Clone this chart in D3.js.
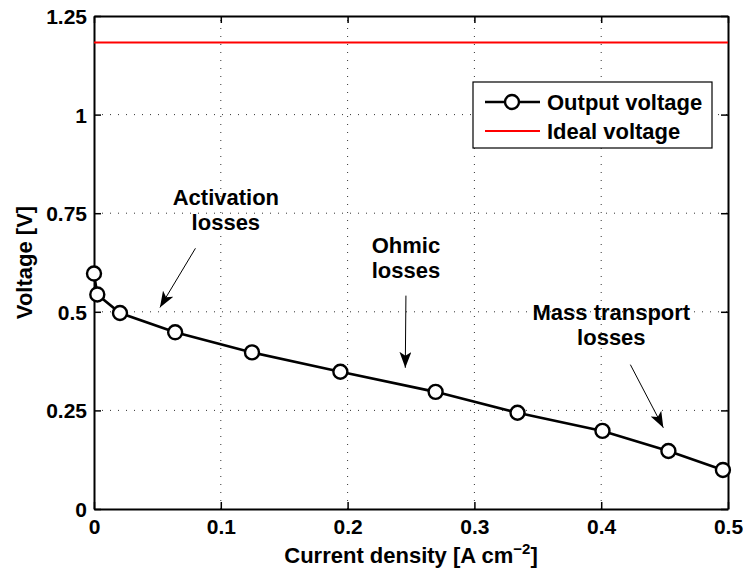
<!DOCTYPE html>
<html>
<head>
<meta charset="utf-8">
<script src="https://cdn.jsdelivr.net/npm/d3@7"></script>
<style>
  html, body { margin: 0; padding: 0; background: #fff; }
  svg { display: block; font-family: "Liberation Sans", Arial, Helvetica, sans-serif; font-weight: bold; }
</style>
</head>
<body>
<svg id="chart" width="743" height="575"></svg>
<script>
// Polarization curve of the cell
const currentDensity = [0, 0.0026, 0.0205, 0.064, 0.1246, 0.1943, 0.2694, 0.334, 0.401, 0.453, 0.496];
const outputVoltage  = [0.597, 0.544, 0.497, 0.448, 0.397, 0.348, 0.297, 0.244, 0.198, 0.147, 0.099];
const idealVoltage = 1.183;

const xTicks = [0, 0.1, 0.2, 0.3, 0.4, 0.5];
const yTicks = [0, 0.25, 0.5, 0.75, 1, 1.25];
const xTickLabels = ["0", "0.1", "0.2", "0.3", "0.4", "0.5"];
const yTickLabels = ["0", "0.25", "0.5", "0.75", "1", "1.25"];

// Loss-region annotations: label lines, text anchor and arrow (tail -> tip) in data units
const annotationLabels = [["Activation", "losses"], ["Ohmic", "losses"], ["Mass transport", "losses"]];
const annotationAnchors = [[0.104, 0.772], [0.246, 0.650], [0.408, 0.480]];
const arrowTails = [[0.080, 0.661], [0.246, 0.541], [0.423, 0.366]];
const arrowTips  = [[0.052, 0.511], [0.2455, 0.358], [0.449, 0.206]];

const legendLabels = ["Output voltage", "Ideal voltage"];

const W = 743, H = 575;
const margin = { left: 94, right: 15, top: 16, bottom: 66 };
const svg = d3.select("#chart");

const x = d3.scaleLinear().domain([0, 0.5]).range([margin.left, W - margin.right]);
const y = d3.scaleLinear().domain([0, 1.25]).range([H - margin.bottom, margin.top]);
const x0 = x.range()[0], x1 = x.range()[1], y0 = y.range()[0], y1 = y.range()[1];

const FS = 22, TICK_FS = 21;

// dotted grid
const grid = svg.append("g").attr("stroke", "#333").attr("stroke-width", 1).attr("stroke-dasharray", "1,7");
grid.selectAll(".gx").data(xTicks.slice(1, -1)).join("line")
  .attr("x1", d => x(d)).attr("x2", d => x(d)).attr("y1", y0).attr("y2", y1);
grid.selectAll(".gy").data(yTicks.slice(1, -1)).join("line")
  .attr("x1", x0).attr("x2", x1).attr("y1", d => y(d)).attr("y2", d => y(d));

// axes with inward ticks on all sides
const tickLen = 7;
const fmtX = (d, i) => xTickLabels[i];
const fmtY = (d, i) => yTickLabels[i];
const axB = svg.append("g").attr("transform", `translate(0,${y0})`)
  .call(d3.axisBottom(x).tickValues(xTicks).tickFormat(fmtX).tickSizeInner(-tickLen).tickSizeOuter(0));
const axL = svg.append("g").attr("transform", `translate(${x0},0)`)
  .call(d3.axisLeft(y).tickValues(yTicks).tickFormat(fmtY).tickSizeInner(-tickLen).tickSizeOuter(0).tickPadding(7));
const axT = svg.append("g").attr("transform", `translate(0,${y1})`)
  .call(d3.axisTop(x).tickValues(xTicks).tickFormat("").tickSizeInner(-tickLen).tickSizeOuter(0));
const axR = svg.append("g").attr("transform", `translate(${x1},0)`)
  .call(d3.axisRight(y).tickValues(yTicks).tickFormat("").tickSizeInner(-tickLen).tickSizeOuter(0));
[axB, axL, axT, axR].forEach(a => {
  a.select(".domain").attr("stroke", "#000").attr("stroke-width", 2);
  a.selectAll(".tick line").attr("stroke", "#000").attr("stroke-width", 1.5);
  a.selectAll("text").attr("fill", "#000").attr("font-size", TICK_FS).attr("font-weight", "bold")
    .attr("font-family", "'Liberation Sans', Arial, sans-serif");
});
axB.selectAll(".tick text").attr("y", 25).attr("dy", 0);
axL.selectAll(".tick text").attr("dy", "0.36em");

// ideal voltage
svg.append("line")
  .attr("x1", x0).attr("x2", x1).attr("y1", y(idealVoltage)).attr("y2", y(idealVoltage))
  .attr("stroke", "#ff0000").attr("stroke-width", 2);

// output voltage curve and markers
const pts = currentDensity.map((c, i) => [c, outputVoltage[i]]);
svg.append("path").datum(pts)
  .attr("d", d3.line().x(d => x(d[0])).y(d => y(d[1])))
  .attr("fill", "none").attr("stroke", "#000").attr("stroke-width", 2.6);
svg.selectAll(".mk").data(pts).join("circle")
  .attr("cx", d => x(d[0])).attr("cy", d => y(d[1])).attr("r", 7)
  .attr("fill", "#fff").attr("stroke", "#000").attr("stroke-width", 2.4);

// annotations
const defs = svg.append("defs");
defs.append("marker").attr("id", "head").attr("viewBox", "0 0 16 12")
  .attr("refX", 16).attr("refY", 6).attr("markerWidth", 16).attr("markerHeight", 12)
  .attr("markerUnits", "userSpaceOnUse").attr("orient", "auto")
  .append("path").attr("d", "M0,0 L16,6 L0,12 L4,6 Z").attr("fill", "#000");

annotationLabels.forEach((lines, i) => {
  const [ax, ay] = annotationAnchors[i];
  const t = svg.append("text").attr("text-anchor", "middle").attr("font-size", FS).attr("fill", "#000");
  lines.forEach((l, j) => {
    t.append("tspan").attr("x", x(ax)).attr("y", y(ay) + j * 25).text(l);
  });
  svg.append("line")
    .attr("x1", x(arrowTails[i][0])).attr("y1", y(arrowTails[i][1]))
    .attr("x2", x(arrowTips[i][0])).attr("y2", y(arrowTips[i][1]))
    .attr("stroke", "#000").attr("stroke-width", 1)
    .attr("marker-end", "url(#head)");
});

// axis titles
svg.append("text").attr("x", (x0 + x1) / 2).attr("y", 563).attr("text-anchor", "middle")
  .attr("font-size", FS).attr("fill", "#000")
  .call(t => {
    t.append("tspan").text("Current density [A cm");
    t.append("tspan").attr("font-size", 15).attr("dy", -9).text("\u22122");
    t.append("tspan").attr("dy", 9).text("]");
  });
svg.append("text").attr("transform", `translate(32,${(y0 + y1) / 2}) rotate(-90)`)
  .attr("text-anchor", "middle").attr("font-size", FS).attr("fill", "#000").text("Voltage [V]");

// legend
const lg = svg.append("g");
lg.append("rect").attr("x", 473).attr("y", 82).attr("width", 239).attr("height", 66)
  .attr("fill", "#fff").attr("stroke", "#000").attr("stroke-width", 1.2);
const rowY = [102, 131];
lg.append("line").attr("x1", 485).attr("x2", 540).attr("y1", rowY[0]).attr("y2", rowY[0])
  .attr("stroke", "#000").attr("stroke-width", 2.6);
lg.append("circle").attr("cx", 512).attr("cy", rowY[0]).attr("r", 7)
  .attr("fill", "#fff").attr("stroke", "#000").attr("stroke-width", 2.4);
lg.append("line").attr("x1", 485).attr("x2", 540).attr("y1", rowY[1]).attr("y2", rowY[1])
  .attr("stroke", "#ff0000").attr("stroke-width", 2);
lg.selectAll(".lt").data(legendLabels).join("text")
  .attr("x", 547).attr("y", (d, i) => rowY[i]).attr("dy", "0.36em")
  .attr("font-size", FS).attr("fill", "#000").text(d => d);
</script>
</body>
</html>
